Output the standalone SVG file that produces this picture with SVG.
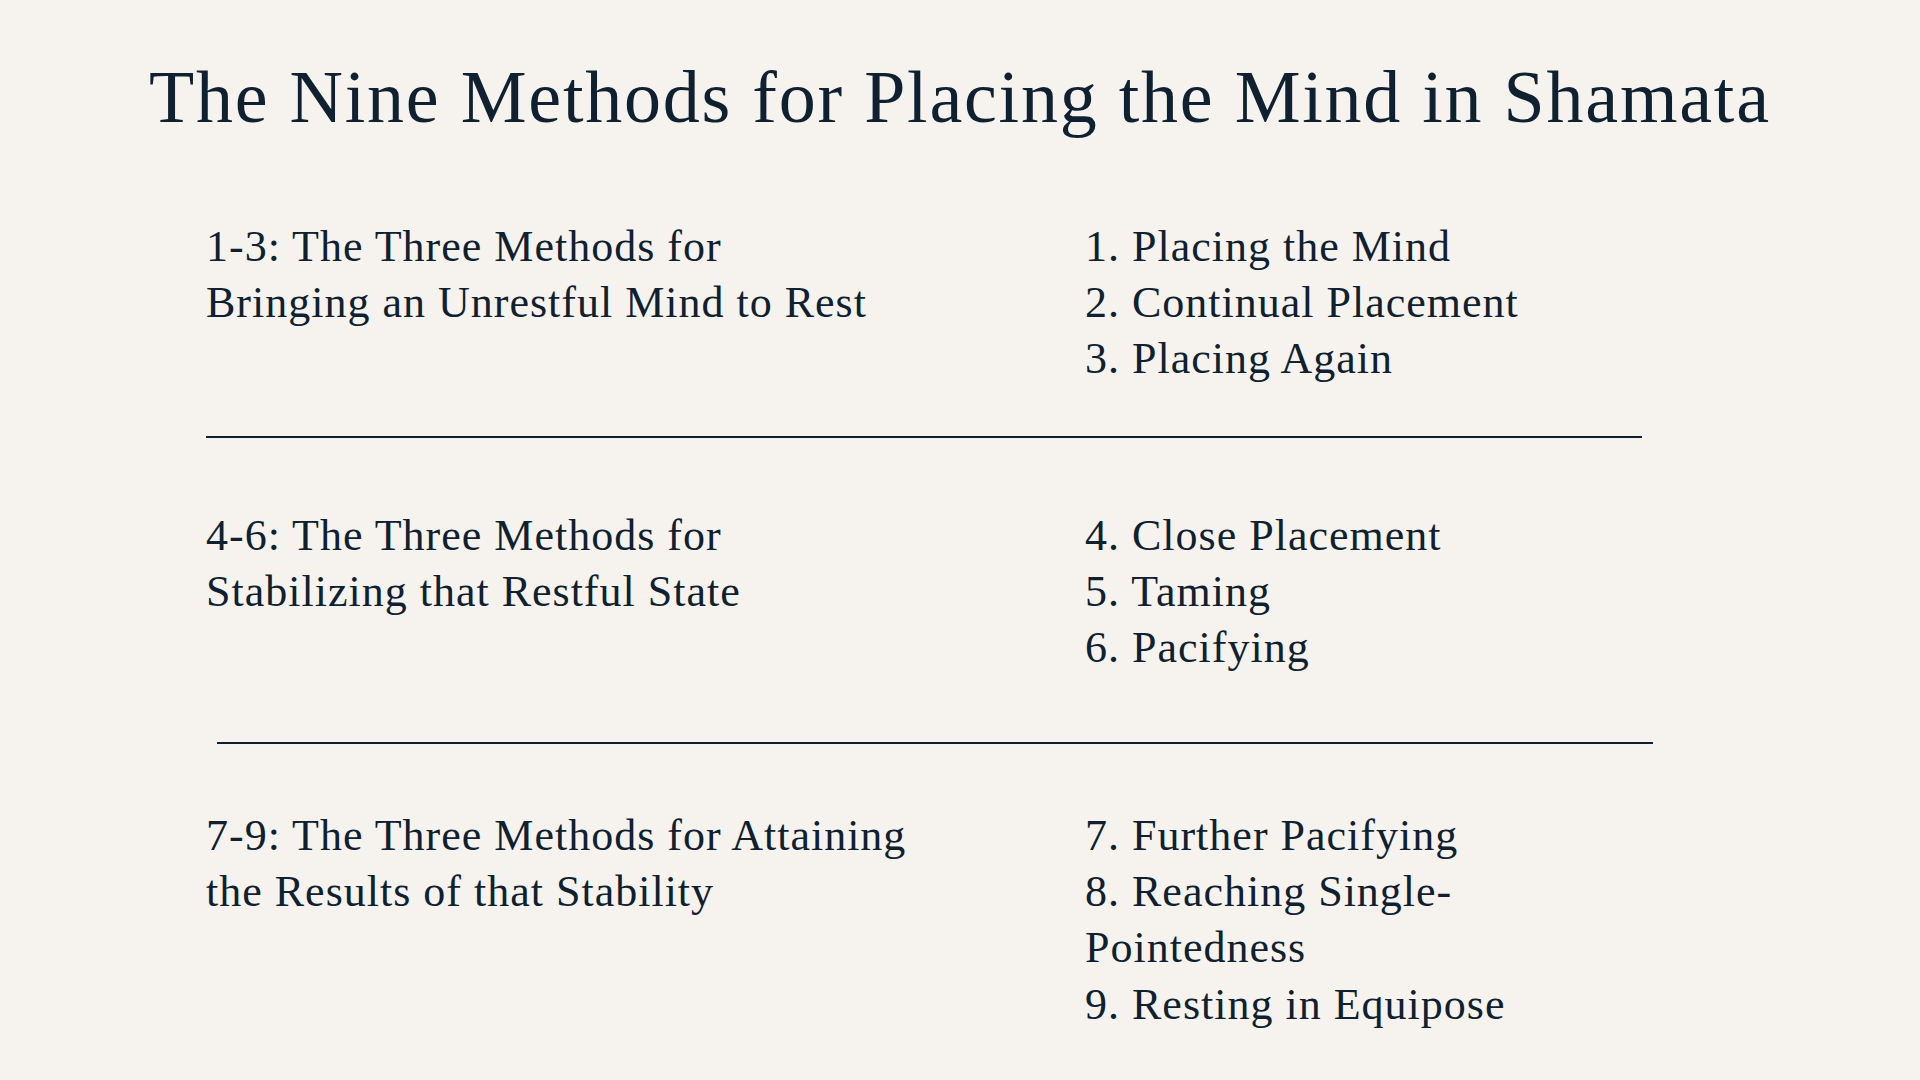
<svg xmlns="http://www.w3.org/2000/svg" width="1920" height="1080" viewBox="0 0 1920 1080">
<style>
.t{font-family:"Liberation Serif","DejaVu Serif",serif;fill:#0f2130}
.b{font-size:44px;letter-spacing:1px}
.l{stroke:#0f2130;stroke-width:2}
</style>
<rect width="1920" height="1080" fill="#f6f3ee"/>
<g id="title"><text class="t" x="149" y="122" font-size="74" textLength="1620">The Nine Methods for Placing the Mind in Shamata</text></g>
<g id="group1">
<text class="t b" x="206" y="261">1-3: The Three Methods for</text>
<text class="t b" x="206" y="317">Bringing an Unrestful Mind to Rest</text>
<text class="t b" x="1085" y="261">1. Placing the Mind</text>
<text class="t b" x="1085" y="317">2. Continual Placement</text>
<text class="t b" x="1085" y="373">3. Placing Again</text>
</g>
<g id="group2">
<text class="t b" x="206" y="550">4-6: The Three Methods for</text>
<text class="t b" x="206" y="606">Stabilizing that Restful State</text>
<text class="t b" x="1085" y="550">4. Close Placement</text>
<text class="t b" x="1085" y="606">5. Taming</text>
<text class="t b" x="1085" y="662">6. Pacifying</text>
</g>
<g id="group3">
<text class="t b" x="206" y="850">7-9: The Three Methods for Attaining</text>
<text class="t b" x="206" y="906">the Results of that Stability</text>
<text class="t b" x="1085" y="850">7. Further Pacifying</text>
<text class="t b" x="1085" y="906">8. Reaching Single-</text>
<text class="t b" x="1085" y="962">Pointedness</text>
<text class="t b" x="1085" y="1019">9. Resting in Equipose</text>
</g>
<g id="connectors">
<line class="l" x1="206" y1="437" x2="1642" y2="437"/>
<line class="l" x1="217" y1="743" x2="1653" y2="743"/>
</g>
</svg>
